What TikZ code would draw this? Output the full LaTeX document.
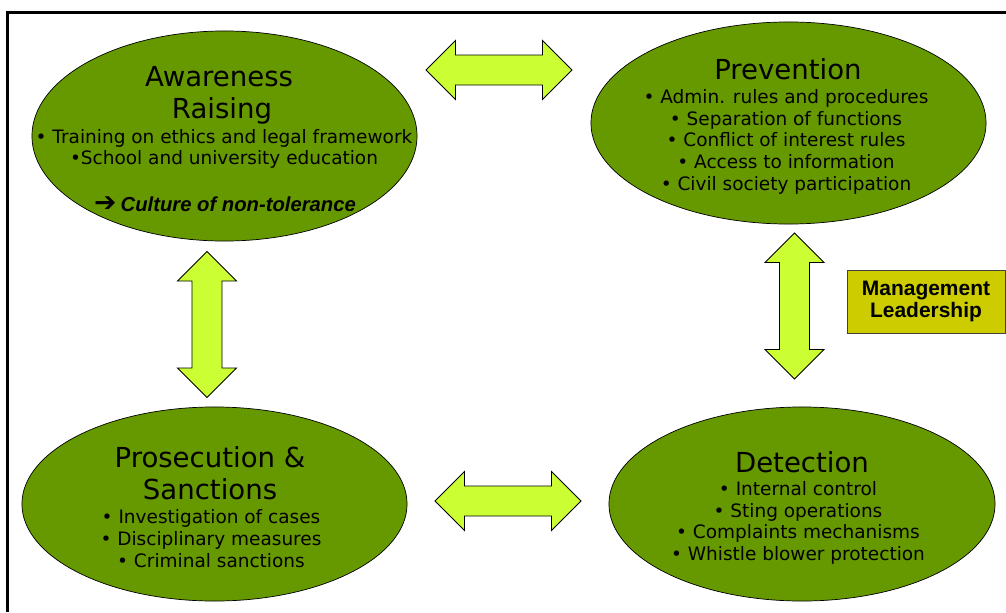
\documentclass[tikz,border=0pt]{standalone}
\usepackage{fontspec}
\usetikzlibrary{shapes.geometric,positioning}
\newfontfamily\verd{DejaVu Sans}
\newfontfamily\arl{Liberation Sans}
\definecolor{leaf}{HTML}{669900}
\definecolor{lime}{HTML}{CCFF33}
\definecolor{mustard}{HTML}{CCCC00}

\tikzset{
  field/.style={ellipse, draw=black, line width=0.5pt, fill=leaf, inner sep=0pt, outer sep=0pt},
  ttl/.style={font=\verd\fontsize{19.6}{23}\selectfont, anchor=base, inner sep=0pt},
  itm/.style={font=\verd\fontsize{13.15}{15}\selectfont, anchor=base, inner sep=0pt},
  tagbox/.style={draw=black!75, line width=0.6pt, fill=mustard, minimum width=3.95cm, minimum height=1.575cm,
    align=center, font=\arl\bfseries\fontsize{14.9}{15.6}\selectfont},
  dblarrow/.pic={
    \draw[fill=lime, line width=0.6pt, line join=miter]
      (-73,0) -- (-43.5,-29.5) -- (-43.5,-15) -- (43.5,-15) -- (43.5,-29.5) -- (73,0)
      -- (43.5,29.5) -- (43.5,15) -- (-43.5,15) -- (-43.5,29.5) -- cycle;
  }
}

\begin{document}
\begin{tikzpicture}[x=0.025cm, y=-0.025cm]
    \useasboundingbox (0,0) rectangle (1006,612);
    \draw[line width=1.5pt] (7.5,612) -- (7.5,12.5) -- (1006,12.5);

    % Fields
    \node[field, minimum width=9.625cm, minimum height=5.25cm] (aware) at (224.5,136) {};
    \node[field, minimum width=9.875cm, minimum height=5.05cm] (prev) at (788.5,123) {};
    \node[field, minimum width=9.625cm, minimum height=4.85cm] (pros) at (214.5,504) {};
    \node[field, minimum width=9.65cm, minimum height=4.85cm] (detect) at (802,504) {};

    % Awareness raising
    \node[ttl] (aware-t1) at (219,86) {Awareness};
    \node[ttl] (aware-t2) at (222,118) {Raising};
    \node[itm] (aware-1) at (224,143) {• Training on ethics and legal framework};
    \node[itm] (aware-2) at (224,164) {•School and university education};
    \node[anchor=base, inner sep=0pt] (aware-3) at (225,211)
      {{\verd\bfseries\fontsize{19}{20}\selectfont ➔}\hspace{3pt}{\arl\bfseries\itshape\fontsize{14.4}{16}\selectfont Culture of non-tolerance}};

    % Prevention
    \node[ttl] (prev-t) at (788,79) {Prevention};
    \foreach \txt/\y [count=\i] in {• Admin. rules and procedures/103, • Separation of functions/125,
        • Conflict of interest rules/146.5, • Access to information/168, • Civil society participation/190}
      \node[itm] (prev-\i) at (786,\y) {\txt};

    % Prosecution
    \node[ttl] (pros-t1) at (210,467) {Prosecution \&};
    \node[ttl] (pros-t2) at (210,499) {Sanctions};
    \foreach \txt/\y [count=\i] in {• Investigation of cases/523, • Disciplinary measures/545,
        • Criminal sanctions/567}
      \node[itm] (pros-\i) at (211,\y) {\txt};

    % Detection
    \node[ttl] (detect-t) at (802,472) {Detection};
    \foreach \txt/\y [count=\i] in {• Internal control/495, • Sting operations/517,
        • Complaints mechanisms/538.5, • Whistle blower protection/560.5}
      \node[itm] (detect-\i) at (798,\y) {\txt};

    % Arrows between fields
    \pic (ap) at (499,70) {dblarrow};
    \pic (pd) at (508,501) {dblarrow};
    \pic[rotate=90] (ar) at (207,324.5) {dblarrow};
    \pic[rotate=90] (dp) at (794.5,306) {dblarrow};

    \node[tagbox] (mgmt) at (926,301.5) {Management\\Leadership};
\end{tikzpicture}
\end{document}
